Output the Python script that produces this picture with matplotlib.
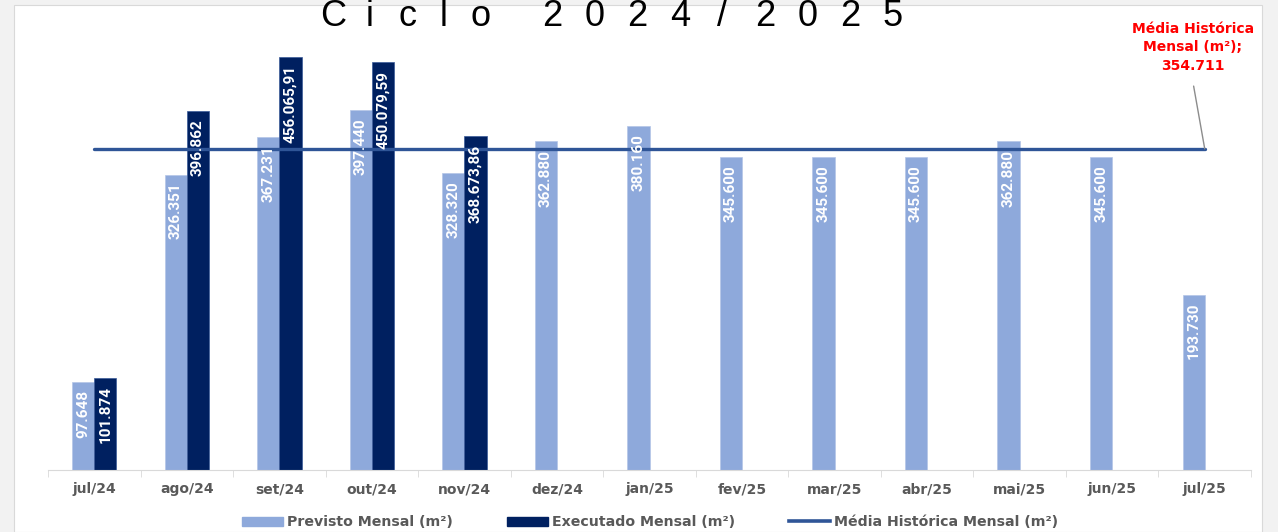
import numpy as np
import matplotlib.pyplot as plt
from matplotlib.patches import Rectangle
from matplotlib.lines import Line2D
from matplotlib.patches import Patch

# dados
meses = ['jul/24', 'ago/24', 'set/24', 'out/24', 'nov/24', 'dez/24', 'jan/25',
         'fev/25', 'mar/25', 'abr/25', 'mai/25', 'jun/25', 'jul/25']
previsto = [97.648, 326.351, 367.231, 397.440, 328.320, 362.880, 380.160,
            345.600, 345.600, 345.600, 362.880, 345.600, 193.730]
previsto_txt = ['97.648', '326.351', '367.231', '397.440', '328.320', '362.880', '380.160',
                '345.600', '345.600', '345.600', '362.880', '345.600', '193.730']
executado = [101.874, 396.862, 456.06591, 450.07959, 368.67386]
executado_txt = ['101.874', '396.862', '456.065,91', '450.079,59', '368.673,86']
media = 354.711

c_prev = '#8EA9DB'
c_exec = '#002060'
c_media = '#2F5597'
cinza = '#595959'

fig = plt.figure(figsize=(12.78, 5.32), dpi=100)
fig.patch.set_facecolor('#f2f2f2')
W, H = 1278, 532
fig.patches.append(Rectangle((14 / W, 0), (1262 - 14) / W, 527 / H, transform=fig.transFigure,
                             facecolor='white', edgecolor='#d9d9d9', lw=0.8, zorder=-5))

ax = fig.add_axes([48 / W, 1 - 470 / H, (1251 - 48) / W, 450 / H])
ax.set_facecolor('none')

x = np.arange(len(meses))
w = 0.24
ax.bar(x - w / 2, previsto, w, color=c_prev, edgecolor='#b4c6e7', lw=0.5, zorder=2)
xe = np.arange(len(executado))
ax.bar(xe + w / 2, executado, w, color=c_exec, edgecolor='#3a5a99', lw=0.5, zorder=2)

ax.plot([x[0], x[-1]], [media, media], color=c_media, lw=2.4, solid_capstyle='round', zorder=3)

# rótulos
fonte_rot = dict(rotation=90, ha='center', va='top', color='white', fontsize=11,
                 family=['Roboto', 'DejaVu Sans'], fontweight='bold', zorder=4)
for xi, v, t in zip(x, previsto, previsto_txt):
    ax.annotate(t, (xi - w / 2, v), xytext=(0, -6), textcoords='offset points', **fonte_rot)
for xi, v, t in zip(xe, executado, executado_txt):
    ax.annotate(t, (xi + w / 2, v), xytext=(0, -6), textcoords='offset points', **fonte_rot)

# rótulo da média
ax.annotate('', xy=(x[-1], media), xytext=(11.88, 424),
            arrowprops=dict(arrowstyle='-', color='#8c8c8c', lw=1, shrinkA=0, shrinkB=0))
ax.text(11.87, 467, 'Média Histórica\nMensal (m²);\n354.711', ha='center', va='center',
        color='#FF0000', fontweight='bold', fontsize=10, linespacing=1.4)

ax.set_xlim(-0.5, len(meses) - 0.5)
ax.set_ylim(0, 497)
ax.set_yticks([])
ax.set_xticks(x)
ax.set_xticklabels(meses, fontweight='bold', color=cinza, fontsize=10)
ax.set_xticks(np.arange(len(meses) + 1) - 0.5, minor=True)
ax.tick_params(axis='x', which='major', length=0, pad=9)
ax.tick_params(axis='x', which='minor', length=5, color='#d9d9d9')
for s in ['top', 'right', 'left']:
    ax.spines[s].set_visible(False)
ax.spines['bottom'].set_color('#d9d9d9')

# título com letras espaçadas
for i, ch in enumerate('Ciclo'):
    fig.text((333 + i * 37) / W, 1 - 26 / H, ch, ha='center', va='baseline',
             fontsize=26, family='Liberation Sans', color='black')
for i, ch in enumerate('2024/2025'):
    fig.text((552 + i * 42.6) / W, 1 - 26 / H, ch, ha='center', va='baseline',
             fontsize=26, family='Liberation Sans', color='black')

handles = [Patch(color=c_prev), Patch(color=c_exec), Line2D([], [], color=c_media, lw=2.6)]
labels = ['Previsto Mensal (m²)', 'Executado Mensal (m²)', 'Média Histórica Mensal (m²)']
fig.legend(handles, labels, loc='center', bbox_to_anchor=(650 / W, 1 - 522 / H), ncol=3,
           frameon=False, prop={'size': 10.2, 'weight': 'bold'}, labelcolor=cinza,
           handlelength=2.9, handleheight=0.6, handletextpad=0.3, columnspacing=3.8)

fig.savefig('out.png', dpi=100, facecolor=fig.get_facecolor())
